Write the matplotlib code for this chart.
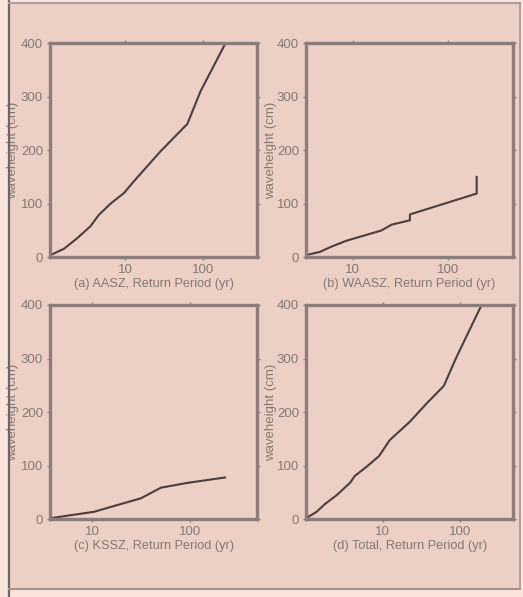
import matplotlib
matplotlib.use("Agg")
import matplotlib.pyplot as plt
from matplotlib.lines import Line2D
from matplotlib.patches import Rectangle

plt.rcParams["font.family"] = ["Liberation Sans", "DejaVu Sans"]

# Return period (yr) vs waveheight (cm)
aasz_T = [1.1, 1.65, 2.45, 3.6, 4.6, 6.5, 9.7, 13, 28.6, 63, 93, 195]
aasz_h = [4, 16, 36, 58, 79, 100, 120, 142, 198, 249, 310, 400]

waasz_T = [3.2, 4.5, 5.8, 8.6, 20, 25.7, 40, 40, 202, 202]
waasz_h = [4, 10, 19, 31, 50, 61, 69, 80, 119, 150]

kssz_T = [3.67, 10.4, 19.6, 31.4, 50.5, 94.6, 231]
kssz_h = [2, 14, 28.5, 39, 59, 68, 78]

total_T = [1.02, 1.4, 1.8, 2.54, 3.78, 4.38, 6.2, 9.0, 12.4, 22.5, 37, 62, 90.6, 191]
total_h = [2, 14, 28.6, 45, 68, 81, 98, 118, 148, 182, 216, 249, 303, 400]

panels = [
    ("(a) AASZ, Return Period (yr)", aasz_T, aasz_h, (1.09, 497)),
    ("(b) WAASZ, Return Period (yr)", waasz_T, waasz_h, (3.22, 491)),
    ("(c) KSSZ, Return Period (yr)", kssz_T, kssz_h, (3.67, 495)),
    ("(d) Total, Return Period (yr)", total_T, total_h, (1.02, 492)),
]
y_ticks = [0, 100, 200, 300, 400]
x_ticks = [10, 100]
x_labels = ["10", "100"]

bg = "#ecd0c6"
spine_col = "#8c7d7a"
line_col = "#4b3e3e"
text_col = "#857774"

W, H = 523, 597
fig = plt.figure(figsize=(W / 100, H / 100), dpi=100)
fig.patch.set_facecolor("#fbe4dc")

# page frame
fig.patches.append(Rectangle((9 / W, 1 - 589 / H), 511 / W, 586 / H, transform=fig.transFigure,
                             facecolor=bg, edgecolor="none", zorder=-10))
fig.lines.append(Line2D([9 / W, 9 / W], [0, 1], transform=fig.transFigure, color="#6e6666", lw=1.6))
fig.lines.append(Line2D([9 / W, 520 / W], [1 - 3 / H, 1 - 3 / H], transform=fig.transFigure, color="#a8a0a0", lw=1.5))
fig.lines.append(Line2D([9 / W, 520 / W], [1 - 589 / H, 1 - 589 / H], transform=fig.transFigure, color="#a89290", lw=1.5))
fig.lines.append(Line2D([520 / W, 520 / W], [1 - 589 / H, 1 - 3 / H], transform=fig.transFigure, color="#a89290", lw=1.2))

lefts = [50, 306]
tops = [43, 305]
ylabel_x = [19, 277]   # right edge of the rotated y label, in pixels
aw, ah = 207.3, 214.3

for i, (label, T, h, xlim) in enumerate(panels):
    left = lefts[i % 2]
    top = tops[i // 2]
    ax = fig.add_axes([left / W, 1 - (top + ah) / H, aw / W, ah / H])
    ax.set_facecolor(bg)
    ax.plot(T, h, color=line_col, lw=1.5, solid_joinstyle="round")
    ax.set_xscale("log")
    ax.set_xlim(*xlim)
    ax.set_ylim(0, 400)
    ax.set_xticks(x_ticks)
    ax.set_xticklabels(x_labels)
    ax.minorticks_off()
    ax.set_yticks(y_ticks)
    for s in ax.spines.values():
        s.set_color(spine_col)
        s.set_linewidth(2.4)
    ax.tick_params(direction="out", length=2.5, width=1, color=spine_col,
                   top=True, right=True, labelsize=9.5, labelcolor=text_col, pad=2.5)
    ax.set_xlabel(label, fontsize=9.2, color=text_col, labelpad=1.5)
    ax.set_ylabel("waveheight (cm)", fontsize=9.5, color=text_col)
    ax.yaxis.set_label_coords((ylabel_x[i % 2] - left) / aw, 0.5)

fig.savefig("out.png", dpi=100, facecolor=fig.get_facecolor())
